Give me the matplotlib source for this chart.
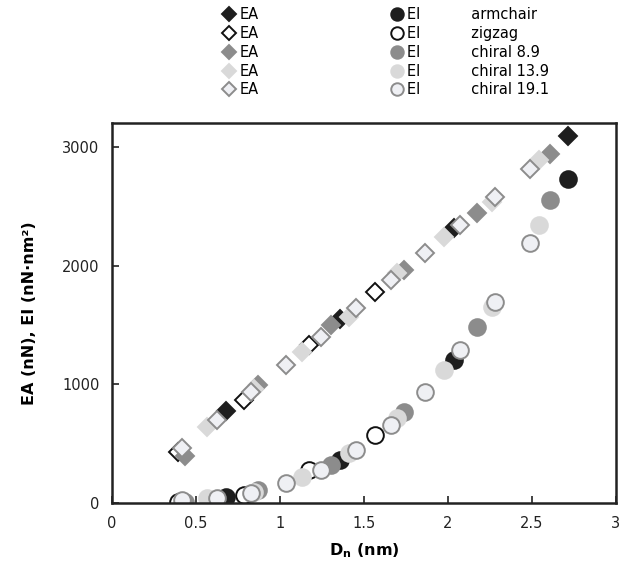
import numpy as np
import matplotlib
matplotlib.use("Agg")
import matplotlib.pyplot as plt
from matplotlib.ticker import FormatStrFormatter

# Durchmesser (nm) je Chiralitaet
d_arm = [0.678, 1.356, 2.034, 2.712]
d_zig = [0.392, 0.783, 1.175, 1.566]
d_c89 = [0.436, 0.870, 1.305, 1.740, 2.175, 2.610]
d_c139 = [0.565, 0.847, 1.130, 1.412, 1.695, 1.977, 2.260, 2.542]
d_c191 = [0.415, 0.622, 0.829, 1.036, 1.243, 1.450, 1.658, 1.865, 2.072, 2.280, 2.487]

# EA (nN)
ea_arm = [775, 1548, 2315, 3095]
ea_zig = [432, 868, 1331, 1781]
ea_c89 = [400, 994, 1500, 1963, 2447, 2938]
ea_c139 = [643, 960, 1270, 1570, 1938, 2244, 2540, 2890]
ea_c191 = [463, 700, 938, 1163, 1401, 1640, 1879, 2104, 2343, 2581, 2812]

# EI (nN nm^2)
ei_arm = [53, 362, 1205, 2728]
ei_zig = [10, 70, 278, 573]
ei_c89 = [12, 110, 320, 770, 1486, 2553]
ei_c139 = [40, 95, 222, 419, 716, 1120, 1654, 2343]
ei_c191 = [25, 40, 82, 166, 278, 447, 657, 938, 1290, 1696, 2188]

names = ["armchair", "zigzag", "chiral 8.9", "chiral 13.9", "chiral 19.1"]
diams = [d_arm, d_zig, d_c89, d_c139, d_c191]
eas = [ea_arm, ea_zig, ea_c89, ea_c139, ea_c191]
eis = [ei_arm, ei_zig, ei_c89, ei_c139, ei_c191]

# Stil: (Fuellfarbe, Randfarbe)
styles = [("#1e1e1e", "#1e1e1e"),
          ("white", "#111111"),
          ("#8c8c8c", "#8c8c8c"),
          ("#d9d9d9", "#d9d9d9"),
          ("#eff0f4", "#8c8c8c")]

plt.rcParams['font.family'] = ['DejaVu Sans']
fig = plt.figure(figsize=(6.34, 5.7), dpi=100)
ax = fig.add_axes([0.1767, 0.1175, 0.7949, 0.6667])

ea_handles = []
ei_handles = []
for d, ea, (fc, ec) in zip(diams, eas, styles):
    h, = ax.plot(d, ea, ls="none", marker="D", ms=9.5, mfc=fc, mec=ec, mew=1.4)
    ea_handles.append(h)
for d, ei, (fc, ec) in zip(diams, eis, styles):
    h, = ax.plot(d, ei, ls="none", marker="o", ms=12, mfc=fc, mec=ec, mew=1.4)
    ei_handles.append(h)

ax.set_xlim(0, 3)
ax.set_ylim(0, 3000 / (503 - 147) * (503 - 123))
ax.set_xticks([0, 0.5, 1, 1.5, 2, 2.5, 3])
ax.set_yticks([0, 1000, 2000, 3000])
ax.xaxis.set_major_formatter(FormatStrFormatter('%g'))
ax.tick_params(direction="in", length=5, width=1.2, labelsize=10.5,
               colors="#222222", pad=9)
ax.tick_params(axis="x", top=False)
ax.tick_params(axis="y", right=False)
for sp in ax.spines.values():
    sp.set_linewidth(1.8)
    sp.set_color("#222222")

ax.set_xlabel(r"$\mathbf{D_n}$ (nm)", fontsize=11.5, fontweight="bold",
              labelpad=8)
ax.set_ylabel("EA (nN), EI (nN·nm²)", fontsize=11.5, fontweight="bold",
              labelpad=18)

handles = ea_handles + ei_handles
labels = ["EA"] * 5 + ["EI           " + n for n in names]
fig.legend(handles, labels, ncol=2, loc="upper left",
           bbox_to_anchor=(0.341, 1.0), frameon=False, fontsize=10.5,
           handlelength=0.8, handletextpad=0.3, labelspacing=0.26,
           columnspacing=9.1, markerscale=0.75, borderaxespad=0.1)

fig.savefig("out.png", dpi=100)
